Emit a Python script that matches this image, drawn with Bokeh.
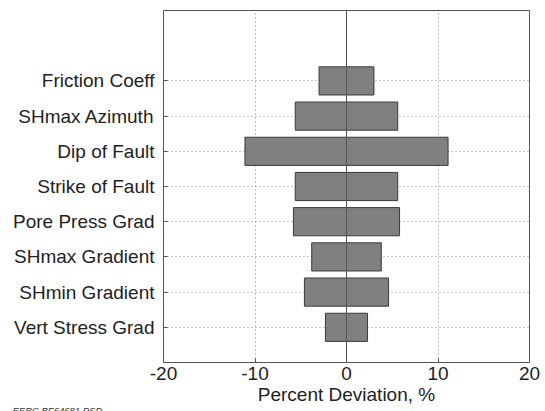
from bokeh.plotting import figure
from bokeh.models import Range1d, FixedTicker, Span, Title, ColumnDataSource
from bokeh.embed import file_html
from bokeh.resources import INLINE

# ---- data (top to bottom) ----
categories = ["Friction Coeff", "SHmax Azimuth", "Dip of Fault", "Strike of Fault",
              "Pore Press Grad", "SHmax Gradient", "SHmin Gradient", "Vert Stress Grad"]
low_dev = [-3.0, -5.6, -11.1, -5.6, -5.8, -3.8, -4.6, -2.3]
high_dev = [3.0, 5.6, 11.1, 5.6, 5.8, 3.8, 4.6, 2.3]
x_ticks = [-20, -10, 0, 10, 20]
x_tick_labels = ["-20", "-10", "0", "10", "20"]
x_label = "Percent Deviation, %"
footnote = "EERC BF64681.PSD"

n = len(categories)
ypos = [n - i for i in range(n)]  # top category highest

FONT = "Liberation Sans"
TXT = "#222222"

p = figure(width=545, height=411, output_backend="svg", toolbar_location=None,
           x_range=Range1d(-20, 20), y_range=Range1d(0, 10),
           min_border_left=163, min_border_right=16, min_border_top=10, min_border_bottom=49)
p.background_fill_color = "white"
p.border_fill_color = "white"
p.outline_line_color = "#555555"
p.outline_line_width = 1

src = ColumnDataSource(dict(y=ypos, left=low_dev, right=high_dev, name=categories))
p.hbar(y="y", left="left", right="right", height=0.8, source=src,
       fill_color="#808080", line_color="#3a3a3a", line_width=1)

p.add_layout(Span(location=0, dimension="height", line_color="#555555", line_width=1))

# x axis
xa = p.xaxis[0]
xa.ticker = FixedTicker(ticks=x_ticks)
xa.major_label_overrides = {t: s for t, s in zip(x_ticks, x_tick_labels)}
xa.axis_line_color = None
xa.major_tick_in = 4
xa.major_tick_out = 0
xa.major_tick_line_color = "#555555"
xa.minor_tick_line_color = None
xa.major_label_text_font = FONT
xa.major_label_text_font_size = "19px"
xa.major_label_text_color = TXT
xa.major_label_standoff = 4
xa.axis_label = x_label
xa.axis_label_text_font = FONT
xa.axis_label_text_font_size = "19px"
xa.axis_label_text_font_style = "normal"
xa.axis_label_text_color = TXT
xa.axis_label_standoff = 1

# y axis
ya = p.yaxis[0]
ya.ticker = FixedTicker(ticks=ypos)
ya.major_label_overrides = {y: c for y, c in zip(ypos, categories)}
ya.axis_line_color = None
ya.major_tick_in = 4
ya.major_tick_out = 0
ya.major_tick_line_color = "#555555"
ya.minor_tick_line_color = None
ya.major_label_text_font = FONT
ya.major_label_text_font_size = "19px"
ya.major_label_text_color = TXT
ya.major_label_standoff = 9

for g in (p.xgrid[0], p.ygrid[0]):
    g.grid_line_color = "#888888"
    g.grid_line_dash = "1 3"
    g.grid_line_width = 1
p.ygrid[0].ticker = FixedTicker(ticks=ypos)
p.xgrid[0].ticker = FixedTicker(ticks=x_ticks)

# footnote in the bottom-left corner
p.add_layout(Title(text=footnote, align="left", offset=-151, standoff=-16,
                   text_font=FONT, text_font_size="9.5px", text_font_style="italic",
                   text_color="#333333"), "below")

open("out.html", "w").write(file_html(p, INLINE))
